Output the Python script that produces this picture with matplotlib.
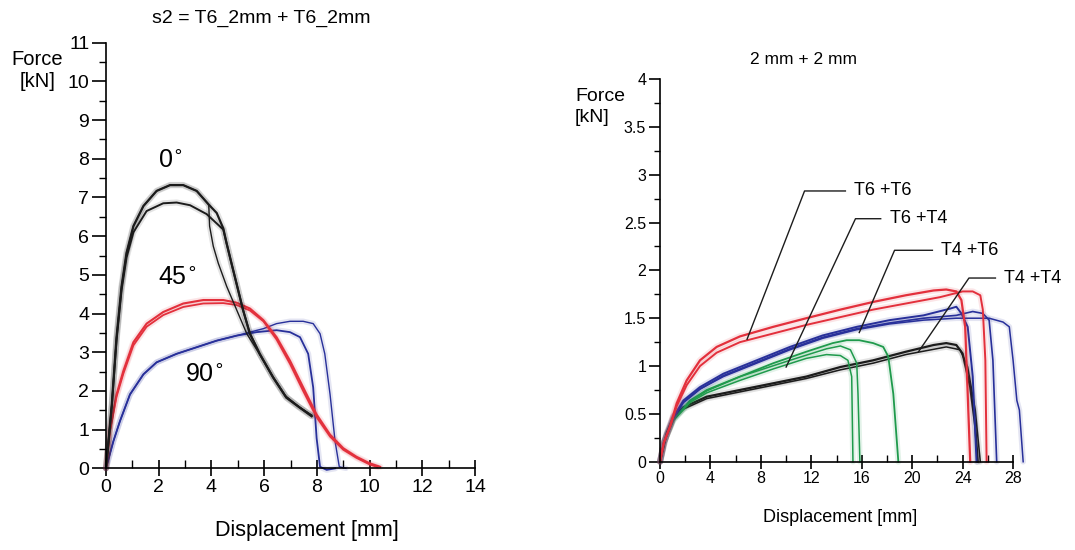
import matplotlib
matplotlib.use("Agg")
import matplotlib.pyplot as plt
from matplotlib.ticker import MultipleLocator, FormatStrFormatter

plt.rcParams['font.family'] = ['Liberation Sans', 'DejaVu Sans']

# ---- gauche : s2 = T6_2mm + T6_2mm (force vs déplacement) ----
d0_haut_x = [0, 0.22, 0.4, 0.59, 0.78, 1.04, 1.42, 1.92, 2.43, 2.93, 3.44, 3.88, 4.2, 4.45,
             4.57, 4.76, 4.95, 5.2, 5.46, 5.83, 6.34, 6.84, 7.35, 7.8]
d0_haut_y = [0, 1.65, 3.39, 4.7, 5.57, 6.26, 6.78, 7.17, 7.32, 7.32, 7.17, 6.83, 6.6, 6.2,
             5.83, 5.3, 4.78, 4.09, 3.48, 2.96, 2.35, 1.83, 1.57, 1.35]
d0_chute_x = [0, 0.22, 0.4, 0.59, 0.78, 1.04, 1.42, 1.92, 2.43, 2.93, 3.44, 3.88, 3.9, 3.93,
              4.07, 4.26, 4.58, 4.96, 5.34, 5.8, 6.3, 6.8, 7.3, 7.8]
d0_chute_y = [0, 1.65, 3.39, 4.7, 5.57, 6.26, 6.78, 7.17, 7.32, 7.32, 7.17, 6.83, 6.78, 6.26,
              5.74, 5.3, 4.7, 4.09, 3.48, 2.98, 2.4, 1.88, 1.6, 1.38]
d0_bas_x = [0, 0.22, 0.4, 0.59, 0.78, 1.04, 1.54, 2.17, 2.68, 3.19, 3.82, 4.45, 4.57, 4.76,
            4.95, 5.2, 5.46, 5.83, 6.34, 6.84, 7.35, 7.8]
d0_bas_y = [0, 1.6, 3.3, 4.6, 5.45, 6.1, 6.65, 6.85, 6.87, 6.8, 6.57, 6.17, 5.83, 5.3,
            4.78, 4.09, 3.48, 2.96, 2.35, 1.83, 1.57, 1.35]

d45_a_x = [0, 0.15, 0.4, 0.66, 1.04, 1.54, 2.17, 2.93, 3.69, 4.45, 4.96, 5.46, 5.97, 6.47,
           6.98, 7.48, 7.99, 8.5, 9.0, 9.5, 10.0, 10.4]
d45_a_y = [0, 1.0, 1.91, 2.52, 3.26, 3.74, 4.04, 4.26, 4.35, 4.35, 4.28, 4.13, 3.83, 3.39,
           2.78, 2.09, 1.39, 0.87, 0.52, 0.3, 0.13, 0.04]
d45_b_x = [0, 0.15, 0.4, 0.66, 1.04, 1.54, 2.17, 2.93, 3.69, 4.45, 4.96, 5.46, 5.97, 6.47,
           6.98, 7.48, 7.99, 8.5, 9.0, 9.5, 10.0, 10.3]
d45_b_y = [0, 0.95, 1.85, 2.45, 3.18, 3.66, 3.96, 4.17, 4.26, 4.27, 4.22, 4.08, 3.8, 3.33,
           2.7, 2.0, 1.32, 0.82, 0.48, 0.27, 0.1, 0.03]

d90_a_x = [0, 0.28, 0.53, 0.91, 1.42, 1.92, 2.68, 3.44, 4.2, 4.96, 5.71, 6.47, 6.98, 7.36,
           7.67, 7.86, 7.99, 8.12, 8.37, 8.7]
d90_a_y = [0, 0.7, 1.22, 1.91, 2.43, 2.74, 2.96, 3.13, 3.3, 3.43, 3.52, 3.57, 3.52, 3.39,
           2.96, 2.09, 0.78, 0.04, -0.04, 0.0]
d90_b_x = [0, 0.28, 0.53, 0.91, 1.42, 1.92, 2.68, 3.44, 4.2, 4.96, 5.97, 6.47, 6.98, 7.48,
           7.86, 8.12, 8.3, 8.5, 8.69, 8.85, 9.1]
d90_b_y = [0, 0.7, 1.22, 1.91, 2.43, 2.74, 2.96, 3.13, 3.3, 3.43, 3.61, 3.74, 3.8, 3.8,
           3.74, 3.48, 2.96, 1.91, 0.7, 0.04, 0.0]

# ---- droite : 2 mm + 2 mm ----
t66_a_x = [0, 0.3, 0.79, 1.32, 2.11, 3.17, 4.49, 6.34, 8.98, 11.6, 14.3, 16.9, 19.5, 21.7,
           22.7, 23.5, 23.9, 24.2, 24.4, 24.6]
t66_a_y = [0, 0.2, 0.37, 0.61, 0.85, 1.06, 1.2, 1.31, 1.41, 1.5, 1.59, 1.67, 1.74, 1.79,
           1.8, 1.78, 1.69, 1.41, 0.71, 0.0]
t66_b_x = [0, 0.3, 0.79, 1.32, 2.11, 3.17, 4.49, 6.34, 11.6, 16.9, 22.2, 24.0, 24.8, 25.4,
           25.6, 25.8, 25.9]
t66_b_y = [0, 0.2, 0.36, 0.58, 0.8, 1.0, 1.14, 1.25, 1.43, 1.59, 1.72, 1.78, 1.78, 1.74,
           1.59, 1.06, 0.0]

t64_a_x = [0, 0.3, 1.06, 1.85, 3.17, 5.02, 7.66, 10.3, 12.9, 15.6, 18.2, 20.9, 23.0, 23.5,
           23.9, 24.4, 24.8, 25.1]
t64_a_y = [0, 0.2, 0.47, 0.64, 0.78, 0.92, 1.06, 1.2, 1.32, 1.41, 1.48, 1.53, 1.6, 1.62,
           1.55, 1.41, 0.89, 0.0]
t64_b_x = [0, 0.3, 1.06, 1.85, 3.17, 5.02, 7.66, 10.3, 12.9, 15.6, 18.2, 20.9, 23.5, 24.8,
           25.6, 26.1, 26.4, 26.7]
t64_b_y = [0, 0.2, 0.46, 0.62, 0.76, 0.9, 1.04, 1.18, 1.3, 1.39, 1.45, 1.5, 1.53, 1.57,
           1.55, 1.48, 1.06, 0.0]
t64_c_x = [0, 0.3, 1.06, 1.85, 3.17, 5.02, 7.66, 10.3, 12.9, 15.6, 18.2, 20.9, 23.5, 26.1,
           27.2, 27.7, 28.0, 28.3, 28.5, 28.8]
t64_c_y = [0, 0.2, 0.46, 0.62, 0.76, 0.89, 1.03, 1.17, 1.29, 1.38, 1.44, 1.48, 1.5, 1.5,
           1.46, 1.41, 1.06, 0.64, 0.54, 0.0]

t46_a_x = [0, 0.3, 1.06, 2.38, 3.7, 6.34, 8.98, 11.6, 13.7, 14.8, 15.8, 16.9, 17.7, 18.1,
           18.5, 18.9]
t46_a_y = [0, 0.2, 0.44, 0.64, 0.75, 0.89, 1.03, 1.15, 1.24, 1.27, 1.27, 1.24, 1.2, 1.1,
           0.71, 0.0]
t46_b_x = [0, 0.3, 1.06, 2.38, 3.7, 6.34, 8.98, 11.6, 13.2, 14.3, 14.9, 15.2, 15.3]
t46_b_y = [0, 0.2, 0.43, 0.62, 0.72, 0.85, 0.97, 1.08, 1.12, 1.11, 1.06, 0.89, 0.0]
t46_c_x = [0, 0.3, 1.06, 2.38, 3.7, 6.34, 10.3, 13.2, 14.3, 15.1, 15.6, 15.7, 15.85]
t46_c_y = [0, 0.2, 0.44, 0.63, 0.74, 0.89, 1.06, 1.18, 1.21, 1.17, 1.03, 0.71, 0.0]

t44_a_x = [0, 0.53, 1.06, 1.85, 3.7, 6.34, 8.98, 11.6, 14.3, 16.9, 19.5, 21.7, 22.7, 23.5,
           24.0, 24.6, 25.0, 25.2]
t44_a_y = [0, 0.3, 0.47, 0.57, 0.68, 0.75, 0.82, 0.89, 0.99, 1.06, 1.15, 1.22, 1.24, 1.22,
           1.13, 0.78, 0.37, 0.0]
t44_b_x = [0, 0.53, 1.06, 1.85, 3.7, 6.34, 8.98, 11.6, 14.3, 16.9, 19.5, 22.7, 23.8, 24.4,
           25.0, 25.4]
t44_b_y = [0, 0.29, 0.45, 0.55, 0.66, 0.73, 0.8, 0.87, 0.96, 1.03, 1.12, 1.2, 1.17, 0.99,
           0.54, 0.0]

# étiquettes et traits de rappel (pointe sur courbe, coude, fin horizontale)
etiquettes = ['T6 +T6', 'T6 +T4', 'T4 +T6', 'T4 +T4']
rappel_x = [[6.9, 11.46, 14.7], [10.0, 15.5, 17.5], [15.8, 18.6, 21.6], [20.5, 24.5, 26.6]]
rappel_y = [[1.28, 2.83, 2.83], [0.99, 2.54, 2.54], [1.35, 2.21, 2.21], [1.15, 1.92, 1.92]]

NOIR = '#1c1c1c'
ROUGE = '#e3303c'
BLEU = '#28309a'
VERT = '#1f9a4c'

fig = plt.figure(figsize=(10.75, 5.5), dpi=100)
ax1 = fig.add_axes([0.0986, 0.1485, 0.3433, 0.7738])
ax2 = fig.add_axes([0.614, 0.1605, 0.3284, 0.6958])


def courbe(ax, x, y, couleur, lw=1.4):
    ax.plot(x, y, color=couleur, lw=lw + 3, alpha=0.12, solid_capstyle='round', clip_on=False)
    ax.plot(x, y, color=couleur, lw=lw, clip_on=False)


# gauche
courbe(ax1, d90_a_x, d90_a_y, BLEU, 1.3)
courbe(ax1, d90_b_x, d90_b_y, BLEU, 1.0)
courbe(ax1, d45_a_x, d45_a_y, ROUGE, 1.5)
courbe(ax1, d45_b_x, d45_b_y, ROUGE, 1.3)
courbe(ax1, d0_bas_x, d0_bas_y, NOIR, 1.4)
courbe(ax1, d0_chute_x, d0_chute_y, NOIR, 1.0)
courbe(ax1, d0_haut_x, d0_haut_y, NOIR, 1.6)

ax1.text(1.98, 7.95, r'0$^{\circ}$', fontsize=18, va='center', ha='left')
ax1.text(1.98, 4.93, r'45$^{\circ}$', fontsize=18, va='center', ha='left')
ax1.text(2.99, 2.4, r'90$^{\circ}$', fontsize=18, va='center', ha='left')

ax1.set_xlim(0, 14)
ax1.set_ylim(0, 11)
ax1.xaxis.set_major_locator(MultipleLocator(2))
ax1.xaxis.set_minor_locator(MultipleLocator(1))
ax1.yaxis.set_major_locator(MultipleLocator(1))
ax1.yaxis.set_minor_locator(MultipleLocator(0.5))
ax1.tick_params(axis='x', which='major', direction='inout', length=12, width=1.2, labelsize=14, pad=2)
ax1.tick_params(axis='x', which='minor', direction='in', length=6, width=1)
ax1.tick_params(axis='y', which='major', direction='out', length=10, width=1.2, labelsize=14, pad=2)
ax1.tick_params(axis='y', which='minor', direction='out', length=5, width=1)
ax1.text(0.545, -0.145, 'Displacement [mm]', transform=ax1.transAxes, fontsize=15.5,
         ha='center', va='center')
ax1.text(-0.186, 0.982, 'Force\n[kN]', transform=ax1.transAxes, fontsize=14.5,
         ha='center', va='top', multialignment='center', linespacing=1.2)
ax1.text(0.42, 1.058, 's2 = T6_2mm + T6_2mm', transform=ax1.transAxes, fontsize=14,
         ha='center', va='center')

# droite
courbe(ax2, t44_b_x, t44_b_y, NOIR, 1.1)
courbe(ax2, t44_a_x, t44_a_y, NOIR, 1.6)
courbe(ax2, t46_b_x, t46_b_y, VERT, 1.1)
courbe(ax2, t46_c_x, t46_c_y, VERT, 1.1)
courbe(ax2, t46_a_x, t46_a_y, VERT, 1.3)
courbe(ax2, t64_c_x, t64_c_y, BLEU, 1.1)
courbe(ax2, t64_b_x, t64_b_y, BLEU, 1.2)
courbe(ax2, t64_a_x, t64_a_y, BLEU, 1.4)
courbe(ax2, t66_b_x, t66_b_y, ROUGE, 1.4)
courbe(ax2, t66_a_x, t66_a_y, ROUGE, 1.6)

for lab, rx, ry in zip(etiquettes, rappel_x, rappel_y):
    ax2.plot(rx, ry, color=NOIR, lw=1.0, clip_on=False)
    ax2.text(rx[-1] + 0.7, ry[-1], lab, fontsize=13, ha='left', va='center', clip_on=False)

ax2.set_xlim(0, 28)
ax2.set_ylim(0, 4)
ax2.xaxis.set_major_locator(MultipleLocator(4))
ax2.xaxis.set_minor_locator(MultipleLocator(2))
ax2.yaxis.set_major_locator(MultipleLocator(0.5))
ax2.yaxis.set_minor_locator(MultipleLocator(0.25))
ax2.yaxis.set_major_formatter(FormatStrFormatter('%g'))
ax2.tick_params(axis='x', which='major', direction='inout', length=10, width=1.2, labelsize=11.5, pad=2)
ax2.tick_params(axis='x', which='minor', direction='in', length=5, width=1)
ax2.tick_params(axis='y', which='major', direction='out', length=8, width=1.2, labelsize=11.5, pad=2)
ax2.tick_params(axis='y', which='minor', direction='out', length=4, width=1)
ax2.text(0.51, -0.145, 'Displacement [mm]', transform=ax2.transAxes, fontsize=13,
         ha='center', va='center')
ax2.text(-0.241, 0.976, 'Force\n[kN]', transform=ax2.transAxes, fontsize=14,
         ha='left', va='top', linespacing=1.3)
ax2.text(0.405, 1.05, '2 mm + 2 mm', transform=ax2.transAxes, fontsize=12.5,
         ha='center', va='center')

for ax in (ax1, ax2):
    ax.spines['top'].set_visible(False)
    ax.spines['right'].set_visible(False)
    ax.spines['left'].set_linewidth(1.2)
    ax.spines['bottom'].set_linewidth(1.2)
    ax.patch.set_alpha(0)

fig.savefig('out.png', dpi=100)
